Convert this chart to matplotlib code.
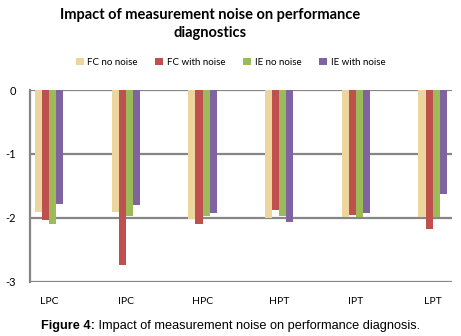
import numpy as np
import matplotlib.pyplot as plt

# Data
components = ['LPC', 'IPC', 'HPC', 'HPT', 'IPT', 'LPT']
series = ['FC no noise', 'FC with noise', 'IE no noise', 'IE with noise']
fc_no_noise = [-1.91, -1.91, -2.01, -2.00, -1.98, -1.98]
fc_with_noise = [-2.03, -2.73, -2.09, -1.87, -1.96, -2.18]
ie_no_noise = [-2.09, -1.97, -1.97, -1.97, -1.99, -1.99]
ie_with_noise = [-1.78, -1.80, -1.93, -2.06, -1.93, -1.62]
colors = ['#EDD59E', '#C0504D', '#9BBB59', '#8064A2']

fig = plt.figure(figsize=(4.61, 3.36), dpi=100)
ax = fig.add_axes([0.065, 0.161, 0.915, 0.571])

x = np.arange(len(components))
w = 0.092
values = [fc_no_noise, fc_with_noise, ie_no_noise, ie_with_noise]
for i, (vals, name, c) in enumerate(zip(values, series, colors)):
    ax.bar(x + (i - 1.5) * w, vals, width=w, color=c, label=name,
           edgecolor='none', zorder=3)

ax.set_ylim(-3, 0)
ax.set_xlim(-0.25, 5.25)
ax.set_yticks([0, -1, -2, -3])
ax.set_yticklabels(['0', '-1', '-2', '-3'], family='Lato', fontsize=8)
ax.set_xticks(x)
ax.set_xticklabels(components, family='Lato', fontsize=7.5)
ax.tick_params(axis='both', length=0)
ax.tick_params(axis='x', pad=11)
ax.tick_params(axis='y', pad=10)

ax.grid(axis='y', color='#868686', linewidth=1.6, zorder=1)
for s in ['top', 'right', 'bottom']:
    ax.spines[s].set_visible(False)
ax.spines['left'].set_color('#868686')
ax.spines['left'].set_linewidth(1.6)

fig.text(0.455, 0.975, 'Impact of measurement noise on performance\ndiagnostics',
         ha='center', va='top', family='Lato', fontweight='bold', fontsize=10.5,
         linespacing=1.3)

fig.legend(loc='center', bbox_to_anchor=(0.5, 0.815), ncol=4, frameon=False,
           prop={'family': 'Lato', 'size': 7}, handlelength=0.8, handleheight=0.8,
           handletextpad=0.4, columnspacing=1.8)

# caption: bold label followed by normal text
renderer = fig.canvas.get_renderer()
t1 = fig.text(0, 0.012, 'Figure 4:', ha='left', va='bottom',
              family='Liberation Sans', fontweight='bold', fontsize=9.2)
t2 = fig.text(0, 0.012, ' Impact of measurement noise on performance diagnosis.',
              ha='left', va='bottom', family='Liberation Sans', fontsize=9.2)
w1 = t1.get_window_extent(renderer).width
w2 = t2.get_window_extent(renderer).width
x0 = (fig.bbox.width - (w1 + w2)) / 2
t1.set_x(x0 / fig.bbox.width)
t2.set_x((x0 + w1) / fig.bbox.width)

plt.savefig('out.png', dpi=100)
plt.close()
